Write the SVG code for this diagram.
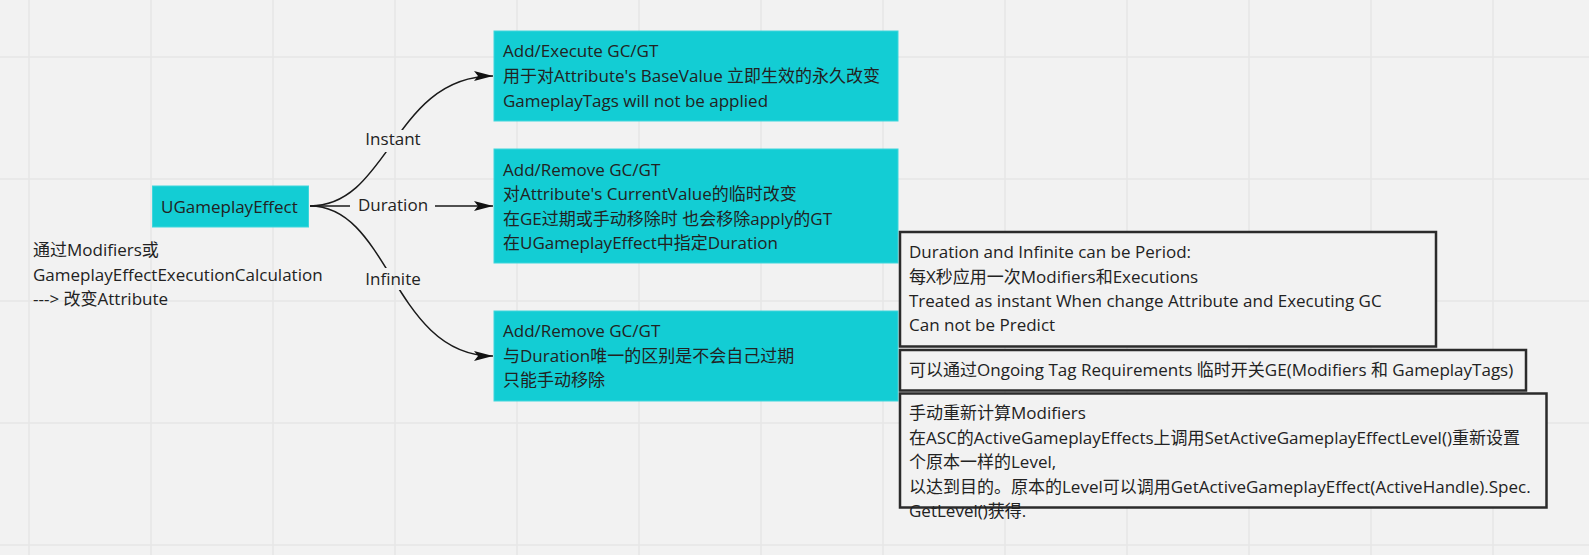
<svg xmlns="http://www.w3.org/2000/svg" width="1589" height="555" viewBox="0 0 1589 555">
<style>
text{font-family:"Open Sans","Noto Sans CJK SC",sans-serif;font-size:17px;fill:#222;}
.cyan{fill:#13cdd4;stroke:#3fd6dc;stroke-width:1;}
.note{fill:#f2f2f2;stroke:#2b2b2b;stroke-width:2.5;}
.grid{stroke:#e6e6e6;stroke-width:1.5;}
.conn{fill:none;stroke:#1a1a1a;stroke-width:1.5;}
.lbl{text-anchor:middle;}
</style>
<defs>
<marker id="arr" markerWidth="20" markerHeight="12" refX="19" refY="5" orient="auto" markerUnits="userSpaceOnUse">
<path d="M0,0 L19,5 L0,10 L4,5 z" fill="#111"/>
</marker>
<mask id="lblmask" maskUnits="userSpaceOnUse" x="0" y="0" width="1589" height="555">
<rect x="0" y="0" width="1589" height="555" fill="#fff"/>
<rect x="359" y="130" width="68" height="22" fill="#000"/>
<rect x="350" y="194" width="85" height="24" fill="#000"/>
<rect x="359" y="268" width="68" height="22" fill="#000"/>
</mask>
</defs>
<rect x="0" y="0" width="1589" height="555" fill="#f2f2f2"/>
<g id="grid">
<path class="grid" d="M29,0V555M151,0V555M273,0V555M395,0V555M517,0V555M639,0V555M761,0V555M883,0V555M1005,0V555M1127,0V555M1249,0V555M1371,0V555M1493,0V555M0,57H1589M0,179H1589M0,301H1589M0,423H1589M0,545H1589"/>
</g>
<g id="connectors">
<g mask="url(#lblmask)">
<path class="conn" d="M310,206 C390,206 393,76 493,76" marker-end="url(#arr)"/>
<path class="conn" d="M310,206 L493,206" marker-end="url(#arr)"/>
<path class="conn" d="M310,206 C390,206 393,356 493,356" marker-end="url(#arr)"/>
</g>
<text class="lbl" x="393" y="145">Instant</text>
<text class="lbl" x="393" y="211">Duration</text>
<text class="lbl" x="393" y="285">Infinite</text>
</g>
<g id="node-ugameplayeffect">
<rect class="cyan" x="152.5" y="186" width="156" height="41"/>
<text x="161" y="213">UGameplayEffect</text>
</g>
<g id="node-note-left">
<text x="33" y="256">通过Modifiers或</text>
<text x="33" y="280.5">GameplayEffectExecutionCalculation</text>
<text x="33" y="305">---&gt; 改变Attribute</text>
</g>
<g id="node-instant">
<rect class="cyan" x="494" y="31" width="404" height="90"/>
<text x="503" y="57">Add/Execute GC/GT</text>
<text x="503" y="82">用于对Attribute's BaseValue 立即生效的永久改变</text>
<text x="503" y="107">GameplayTags will not be applied</text>
</g>
<g id="node-duration">
<rect class="cyan" x="494" y="149" width="404" height="114"/>
<text x="503" y="176">Add/Remove GC/GT</text>
<text x="503" y="200">对Attribute's CurrentValue的临时改变</text>
<text x="503" y="224.5">在GE过期或手动移除时 也会移除apply的GT</text>
<text x="503" y="249">在UGameplayEffect中指定Duration</text>
</g>
<g id="node-infinite">
<rect class="cyan" x="494" y="311" width="404" height="90"/>
<text x="503" y="337">Add/Remove GC/GT</text>
<text x="503" y="361.5">与Duration唯一的区别是不会自己过期</text>
<text x="503" y="386">只能手动移除</text>
</g>
<g id="node-period">
<rect class="note" x="900" y="232" width="536" height="114.5"/>
<text x="909" y="258">Duration and Infinite can be Period:</text>
<text x="909" y="283">每X秒应用一次Modifiers和Executions</text>
<text x="909" y="307">Treated as instant When change Attribute and Executing GC</text>
<text x="909" y="331">Can not be Predict</text>
</g>
<g id="node-ongoing">
<rect class="note" x="900" y="350" width="626" height="40.5"/>
<text x="909" y="376">可以通过Ongoing Tag Requirements 临时开关GE(Modifiers 和 GameplayTags)</text>
</g>
<g id="node-recalc">
<rect class="note" x="900" y="393.5" width="646.5" height="114"/>
<text x="909" y="419">手动重新计算Modifiers</text>
<text x="909" y="443.5">在ASC的ActiveGameplayEffects上调用SetActiveGameplayEffectLevel()重新设置</text>
<text x="909" y="468">个原本一样的Level,</text>
<text x="909" y="492.5">以达到目的。原本的Level可以调用GetActiveGameplayEffect(ActiveHandle).Spec.</text>
<text x="909" y="517">GetLevel()获得.</text>
</g>
</svg>
